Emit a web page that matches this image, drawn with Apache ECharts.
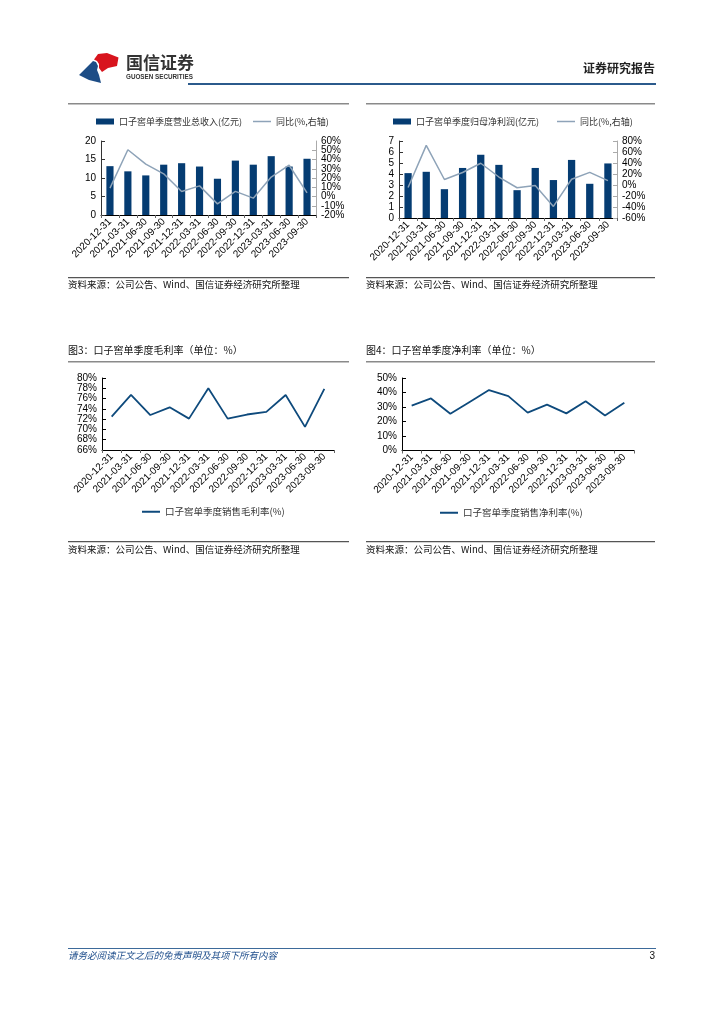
<!DOCTYPE html>
<html><head><meta charset="utf-8">
<script src="https://cdn.jsdelivr.net/npm/echarts@6/dist/echarts.min.js"></script>
<style>html,body{margin:0;padding:0;background:#fff}#c{width:724px;height:1024px}</style>
</head><body><div id="c"></div>
<script>
const categories = ['2020-12-31','2021-03-31','2021-06-30','2021-09-30','2021-12-31','2022-03-31','2022-06-30','2022-09-30','2022-12-31','2023-03-31','2023-06-30','2023-09-30'];
const revenue = [13.2,11.8,10.7,13.6,14.0,13.1,9.8,14.7,13.6,15.9,13.1,15.2];
const revenueYoY = [9,50.5,35,24.5,5.5,11.5,-8,5.5,-1.8,21,33.8,4];
const profit = [4.08,4.2,2.62,4.55,5.75,4.83,2.53,4.55,3.45,5.28,3.11,4.96];
const profitYoY = [-4.5,72,10,22.7,39.5,14.5,-5,-1,-39,10.5,23,8];
const grossMargin = [72.5,76.7,72.8,74.3,72.1,78.0,72.1,72.9,73.4,76.7,70.5,77.9];
const netMargin = [31,35.9,25.3,33.5,41.7,37.5,26.1,31.6,25.6,33.9,24.1,32.9];

const FN = "'Liberation Sans','Noto Sans CJK SC',sans-serif";
const CJK = "'Noto Sans CJK SC','Liberation Sans',sans-serif";
const BAR = '#053c72', YOY = '#8ea3b8', LINE = '#0e4a7c';
const chart = echarts.init(document.getElementById('c'));

function xAx(i){return {gridIndex:i,type:'category',data:categories,
  axisLine:{lineStyle:{color:'#000',width:1}},axisTick:{show:true,length:3,lineStyle:{color:'#666'}},
  axisLabel:{rotate:45,interval:0,fontSize:10,color:'#000',margin:5,fontFamily:FN}};}
function yAx(i,min,max,iv,pct,right,lc){return {gridIndex:i,type:'value',min:min,max:max,interval:iv,
  position:right?'right':'left',splitLine:{show:false},
  axisLine:{show:true,lineStyle:{color:lc||'#333'}},axisTick:{show:true,inside:true,length:4,lineStyle:{color:lc||'#333'}},
  axisLabel:{fontSize:10,color:'#000',margin:5,fontFamily:FN,showMinLabel:true,showMaxLabel:true,
    formatter:pct?'{value}%':'{value}'}};}
function lg(name,left,cy,isBar,size,lineH){return {data:[name],left:left,top:cy-6,itemWidth:18,itemHeight:isBar?6:(lineH||1.5),
  icon:'rect',itemGap:4,padding:0,textStyle:{fontSize:size||9,color:'#333',fontFamily:CJK}};}

// chart 1 right axis: main axis shows inner labels, companion axis shows the end labels
const c1Right = yAx(0,-20,60,10,true,true,'#aaa');
c1Right.axisLabel.showMinLabel = false; c1Right.axisLabel.showMaxLabel = false;
const c1RightEnds = {gridIndex:0,type:'value',min:-20,max:60,interval:10,position:'right',splitLine:{show:false},
  axisLine:{show:false},axisTick:{show:false},
  axisLabel:{fontSize:10,color:'#000',margin:5,fontFamily:FN,showMinLabel:true,showMaxLabel:true,
    formatter:function(v){return (v===-20||v===60)?v+'%':'';}}};

const option = {
  animation:false,
  grid:[
    {left:101,top:141,width:215,height:74},
    {left:399,top:141,width:218,height:77},
    {left:102,top:378,width:232,height:72},
    {left:402,top:378,width:232,height:72.5}
  ],
  xAxis:[xAx(0),xAx(1),xAx(2),xAx(3)],
  yAxis:[
    yAx(0,0,20,5,false,false,'#333'),
    c1Right,
    yAx(1,0,7,1,false,false,'#333'),
    yAx(1,-60,80,20,true,true,'#aaa'),
    yAx(2,66,80,2,true,false,'#000'),
    yAx(3,0,50,10,true,false,'#000'),
    c1RightEnds
  ],
  legend:[
    lg('口子窖单季度营业总收入(亿元)',96,123,true),
    lg('同比(%,右轴)',253,123,false),
    lg('口子窖单季度归母净利润(亿元)',393,123,true),
    lg('同比(%,右轴)',557,123,false),
    lg('口子窖单季度销售毛利率(%)',142,513,false,9.5,2),
    lg('口子窖单季度销售净利率(%)',440,514,false,9.5,2)
  ],
  series:[
    {name:'口子窖单季度营业总收入(亿元)',type:'bar',xAxisIndex:0,yAxisIndex:0,data:revenue,barWidth:'40%',itemStyle:{color:BAR}},
    {name:'同比(%,右轴)',type:'line',xAxisIndex:0,yAxisIndex:1,data:revenueYoY,symbol:'none',lineStyle:{color:YOY,width:1.5},itemStyle:{color:YOY}},
    {name:'口子窖单季度归母净利润(亿元)',type:'bar',xAxisIndex:1,yAxisIndex:2,data:profit,barWidth:'40%',itemStyle:{color:BAR}},
    {name:'同比(%,右轴)',type:'line',xAxisIndex:1,yAxisIndex:3,data:profitYoY,symbol:'none',lineStyle:{color:YOY,width:1.5},itemStyle:{color:YOY}},
    {name:'口子窖单季度销售毛利率(%)',type:'line',xAxisIndex:2,yAxisIndex:4,data:grossMargin,symbol:'none',lineStyle:{color:LINE,width:1.8},itemStyle:{color:LINE}},
    {name:'口子窖单季度销售净利率(%)',type:'line',xAxisIndex:3,yAxisIndex:5,data:netMargin,symbol:'none',lineStyle:{color:LINE,width:1.8},itemStyle:{color:LINE}}
  ],
  graphic:[
    // logo
    {type:'polygon',shape:{points:[[79,75],[93,61],[96,62],[98,66],[97,70],[99,75],[101,83],[89,80]]},style:{fill:'#1d4d86'}},
    {type:'polygon',shape:{points:[[94,59.5],[98,54],[107,53],[118.5,57.5],[117,66],[108,68],[102,72],[99,68],[99,64],[97,61]]},style:{fill:'#d8141d'}},
    {type:'text',left:126,top:54,style:{text:'国信证券',font:'bold 17px '+CJK,fill:'#333'}},
    {type:'text',left:126,top:74.5,style:{text:'GUOSEN SECURITIES',font:'bold 6.3px '+FN,fill:'#333'}},
    {type:'text',right:69,top:62,style:{text:'证券研究报告',font:'bold 12px '+CJK,fill:'#222'}},
    {type:'rect',shape:{x:188,y:83,width:468,height:2},style:{fill:'#2b5a8c'}},
    // panel lines
    {type:'rect',shape:{x:68,y:103,width:281,height:1.5},style:{fill:'#8a8a8a'}},
    {type:'rect',shape:{x:366,y:103,width:289,height:1.5},style:{fill:'#8a8a8a'}},
    {type:'rect',shape:{x:68,y:277,width:281,height:1.2},style:{fill:'#555'}},
    {type:'rect',shape:{x:366,y:277,width:289,height:1.2},style:{fill:'#555'}},
    {type:'text',left:68,top:280,style:{text:'资料来源：公司公告、Wind、国信证券经济研究所整理',font:'9.5px '+CJK,fill:'#111'}},
    {type:'text',left:366,top:280,style:{text:'资料来源：公司公告、Wind、国信证券经济研究所整理',font:'9.5px '+CJK,fill:'#111'}},
    {type:'text',left:68,top:345,style:{text:'图3：口子窖单季度毛利率（单位：%）',font:'10px '+CJK,fill:'#111'}},
    {type:'text',left:366,top:345,style:{text:'图4：口子窖单季度净利率（单位：%）',font:'10px '+CJK,fill:'#111'}},
    {type:'rect',shape:{x:68,y:361,width:281,height:1.5},style:{fill:'#8a8a8a'}},
    {type:'rect',shape:{x:366,y:361,width:289,height:1.5},style:{fill:'#8a8a8a'}},
    {type:'rect',shape:{x:68,y:541,width:281,height:1.2},style:{fill:'#555'}},
    {type:'rect',shape:{x:366,y:541,width:289,height:1.2},style:{fill:'#555'}},
    {type:'text',left:68,top:545,style:{text:'资料来源：公司公告、Wind、国信证券经济研究所整理',font:'9.5px '+CJK,fill:'#111'}},
    {type:'text',left:366,top:545,style:{text:'资料来源：公司公告、Wind、国信证券经济研究所整理',font:'9.5px '+CJK,fill:'#111'}},
    // footer
    {type:'rect',shape:{x:68,y:948,width:588,height:1},style:{fill:'#3d6a9a'}},
    {type:'text',left:68,top:951,style:{text:'请务必阅读正文之后的免责声明及其项下所有内容',font:'italic 9.5px '+CJK,fill:'#1f4e8c'}},
    {type:'text',right:69,top:951,style:{text:'3',font:'10px '+FN,fill:'#111'}}
  ]
};
chart.setOption(option);
</script></body></html>
